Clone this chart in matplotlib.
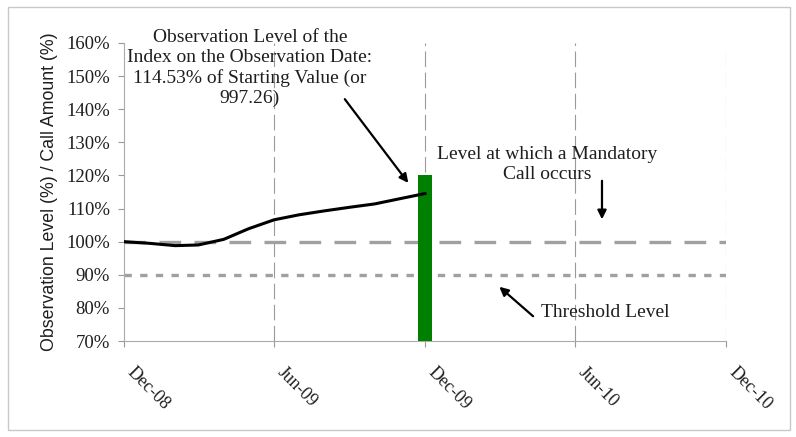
import datetime as dt
import matplotlib
matplotlib.use("Agg")
import matplotlib.pyplot as plt
import matplotlib.dates as mdates
from matplotlib.patches import Rectangle

# observation level of the index, monthly (% of starting value)
obs_dates = [dt.date(2008, 12, 1), dt.date(2009, 1, 1), dt.date(2009, 2, 1), dt.date(2009, 3, 1),
             dt.date(2009, 4, 1), dt.date(2009, 5, 1), dt.date(2009, 6, 1), dt.date(2009, 7, 1),
             dt.date(2009, 8, 1), dt.date(2009, 9, 1), dt.date(2009, 10, 1), dt.date(2009, 11, 1),
             dt.date(2009, 12, 1)]
obs_level = [100.0, 99.5, 98.8, 99.0, 100.7, 103.9, 106.6, 108.1, 109.3, 110.4, 111.4, 113.0, 114.53]

# call amount bar on the observation date
call_date = [dt.date(2009, 12, 1)]
call_amount = [120]

mandatory_call_level = 100
threshold_level = 90

tick_dates = [dt.date(2008, 12, 1), dt.date(2009, 6, 1), dt.date(2009, 12, 1),
              dt.date(2010, 6, 1), dt.date(2010, 12, 1)]
tick_labels = ["Dec-08", "Jun-09", "Dec-09", "Jun-10", "Dec-10"]
y_ticks = list(range(70, 161, 10))

serif = "Liberation Serif"
txt_col = "#1e1e1e"
grey = "#a0a0a0"

fig = plt.figure(figsize=(7.96, 4.37), dpi=100)
W, H = 796, 437
ax = fig.add_axes([124 / W, 1 - 341 / H, (726 - 124) / W, (341 - 43) / H])

# outer chart border
fig.patches.append(Rectangle((8 / W, 1 - 430 / H), (790 - 8) / W, (430 - 7) / H,
                             transform=fig.transFigure, fill=False, edgecolor="#c8c8c8", lw=1))

x0, x1 = mdates.date2num(tick_dates[0]), mdates.date2num(tick_dates[-1])

# vertical grid lines
for d in tick_dates[1:]:
    ax.axvline(d, color="#9a9a9a", lw=0.8, dashes=(14, 5), zorder=1)

# call level lines
ax.plot([x0, x1], [mandatory_call_level] * 2, color=grey, lw=2.4, dashes=(6.5, 4), zorder=2)
ax.plot([x0, x1], [threshold_level] * 2, color=grey, lw=2.4, dashes=(2.2, 2.5), zorder=2)

ax.bar(call_date, call_amount, width=17, color="#008000", zorder=3)
ax.plot(obs_dates, obs_level, color="black", lw=2.2, zorder=4)

ax.set_xlim(x0, x1)
ax.set_ylim(70, 160)
ax.set_xticks([mdates.date2num(d) for d in tick_dates])
ax.set_xticklabels(tick_labels, rotation=-45, ha="left", va="bottom", rotation_mode="anchor",
                   fontfamily=serif, fontsize=13, color=txt_col)
ax.set_yticks(y_ticks)
ax.set_yticklabels([f"{v}%" for v in y_ticks], fontfamily=serif, fontsize=13.5, color=txt_col)
ax.tick_params(axis="both", color="#999999", length=4)
ax.tick_params(axis="x", pad=21)
ax.tick_params(axis="y", pad=6)
for s in ["top", "right"]:
    ax.spines[s].set_visible(False)
for s in ["left", "bottom"]:
    ax.spines[s].set_color("#aaaaaa")

ax.set_ylabel("Observation Level (%) / Call Amount (%)", fontfamily="Liberation Sans",
              fontsize=12.8, color=txt_col, labelpad=6)

arrow = dict(arrowstyle="-|>", color="black", lw=1.6, mutation_scale=13)

ax.text(0.209, 0.916, "Observation Level of the\nIndex on the Observation Date:\n"
        "114.53% of Starting Value (or\n997.26)", transform=ax.transAxes, ha="center",
        va="center", fontfamily=serif, fontsize=14, color=txt_col, linespacing=1.2)
ax.annotate("", xy=(0.475, 0.523), xytext=(0.364, 0.819), xycoords="axes fraction",
            textcoords="axes fraction", arrowprops=arrow)

ax.text(0.703, 0.592, "Level at which a Mandatory\nCall occurs", transform=ax.transAxes,
        ha="center", va="center", fontfamily=serif, fontsize=14, color=txt_col, linespacing=1.2)
ax.annotate("", xy=(0.794, 0.399), xytext=(0.794, 0.547), xycoords="axes fraction",
            textcoords="axes fraction", arrowprops=arrow)

ax.text(0.799, 0.097, "Threshold Level", transform=ax.transAxes, ha="center", va="center",
        fontfamily=serif, fontsize=14, color=txt_col)
ax.annotate("", xy=(0.620, 0.188), xytext=(0.683, 0.077), xycoords="axes fraction",
            textcoords="axes fraction", arrowprops=arrow)

fig.savefig("out.png", dpi=100)
